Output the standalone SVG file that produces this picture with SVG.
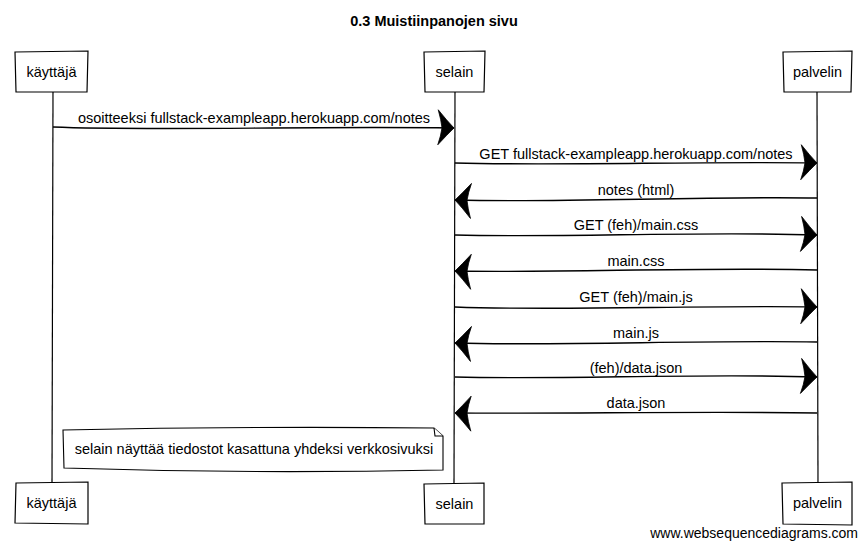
<svg xmlns="http://www.w3.org/2000/svg" width="867" height="549" viewBox="0 0 867 549">
<style>
text{font-family:"Liberation Sans",Arial,sans-serif;font-size:14.5px;fill:#000}
.title{font-weight:bold;font-size:14.5px}
.box{fill:#fff;stroke:#000;stroke-width:1.2}
.life{fill:none;stroke:#000;stroke-width:1.2}
.msg{fill:none;stroke:#000;stroke-width:1.4;marker-end:url(#ah)}
.note{fill:#fff;stroke:#000;stroke-width:1.1}
.wm{font-size:14px}
</style>
<defs>
<marker id="ah" markerUnits="userSpaceOnUse" viewBox="-20 -20 22 40" refX="0" refY="0" markerWidth="22" markerHeight="40" orient="auto" overflow="visible">
<path d="M0,0 Q-7,-7 -16,-18 Q-13,-8 -12,0 Q-13,8 -16,17 Q-7,7 0,0 Z" fill="#000" stroke="#000" stroke-width="0.8" stroke-linejoin="round"/>
</marker>
</defs>
<rect width="867" height="549" fill="#fff"/>
<text class="title" x="434" y="26" text-anchor="middle">0.3 Muistiinpanojen sivu</text>

<g id="lifelines">
<path class="life" d="M53,92 L52,483"/>
<path class="life" d="M455,92 L454,483"/>
<path class="life" d="M817,92 L818,483"/>
</g>

<g id="kayttaja">
<path class="box" d="M15,52 L88,51 L87,92 L16,92 Z"/>
<text x="51.5" y="77" text-anchor="middle">käyttäjä</text>
<path class="box" d="M16,483 L88,482 L88,524 L15,523 Z"/>
<text x="51.5" y="508" text-anchor="middle">käyttäjä</text>
</g>

<g id="selain">
<path class="box" d="M424,52 L485,51 L484,92 L425,92 Z"/>
<text x="454.5" y="77" text-anchor="middle">selain</text>
<path class="box" d="M424,484 L484,483 L484,524 L425,524 Z"/>
<text x="454.5" y="509" text-anchor="middle">selain</text>
</g>

<g id="palvelin">
<path class="box" d="M783,52 L852,51 L851,92 L784,92 Z"/>
<text x="817.5" y="77" text-anchor="middle">palvelin</text>
<path class="box" d="M782,483 L852,482 L852,525 L783,524 Z"/>
<text x="817.5" y="508" text-anchor="middle">palvelin</text>
</g>

<g id="connectors">
<path class="msg" d="M53,127 C150,131 300,126 454,128"/>
<path class="msg" d="M455,163 C560,166 700,161 817,163"/>
<path class="msg" d="M817,198 C700,196 560,203 455,200"/>
<path class="msg" d="M455,235 C560,238 700,231 817,235"/>
<path class="msg" d="M817,270 C700,267 560,273 455,271"/>
<path class="msg" d="M455,307 C560,311 700,305 817,307"/>
<path class="msg" d="M817,342 C700,340 560,346 455,343"/>
<path class="msg" d="M455,377 C560,380 700,373 817,377"/>
<path class="msg" d="M817,413 C700,411 560,414 455,413"/>
</g>

<g id="labels">
<text x="254" y="123" text-anchor="middle">osoitteeksi fullstack-exampleapp.herokuapp.com/notes</text>
<text x="636" y="159" text-anchor="middle">GET fullstack-exampleapp.herokuapp.com/notes</text>
<text x="636" y="195" text-anchor="middle">notes (html)</text>
<text x="636" y="230" text-anchor="middle">GET (feh)/main.css</text>
<text x="636" y="266" text-anchor="middle">main.css</text>
<text x="636" y="302" text-anchor="middle">GET (feh)/main.js</text>
<text x="636" y="338" text-anchor="middle">main.js</text>
<text x="636" y="373" text-anchor="middle">(feh)/data.json</text>
<text x="636" y="408" text-anchor="middle">data.json</text>
</g>

<g id="note">
<path class="note" d="M63,430 Q250,426 434,428 L443,436 L443,470 Q250,474 64,468 Z"/>
<path class="note" d="M434,428 L435,436 L443,436" fill="none"/>
<text x="254" y="454" text-anchor="middle">selain näyttää tiedostot kasattuna yhdeksi verkkosivuksi</text>
</g>

<text class="wm" x="858" y="538" text-anchor="end">www.websequencediagrams.com</text>
</svg>
